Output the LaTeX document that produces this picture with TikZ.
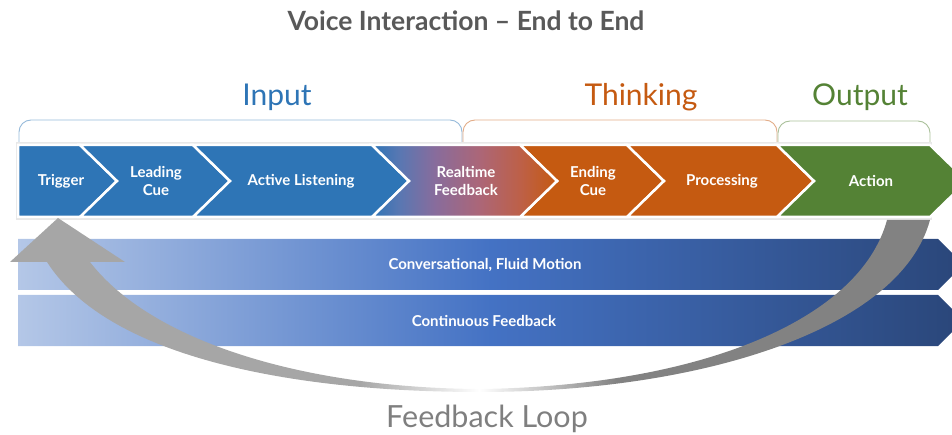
\documentclass[tikz,border=0pt]{standalone}
\usepackage{fontspec}
\setmainfont{Lato}
\usetikzlibrary{positioning}
\usetikzlibrary{calc}
\definecolor{inblue}{HTML}{2E75B6}
\definecolor{thorange}{HTML}{C55A11}
\definecolor{outgreen}{HTML}{548235}
\definecolor{titlegray}{HTML}{595959}
\definecolor{loopgray}{HTML}{7F7F7F}
\definecolor{barlight}{HTML}{B4C7E7}
\definecolor{barmid}{HTML}{4472C4}
\definecolor{bardark}{HTML}{2A4679}
\definecolor{loopdark}{HTML}{828282}
\definecolor{looplight}{HTML}{A6A6A6}
\definecolor{rtA}{HTML}{5A77B2}
\definecolor{rtB}{HTML}{886C9C}
\definecolor{rtC}{HTML}{AC6677}
\definecolor{rtD}{HTML}{BD6048}
\pgfdeclarehorizontalshading{barshade}{100bp}{color(0bp)=(barlight); color(25bp)=(barlight); color(50bp)=(barmid); color(75bp)=(bardark); color(100bp)=(bardark)}
\pgfdeclarehorizontalshading{loopshade}{100bp}{color(0bp)=(looplight); color(25bp)=(looplight); color(44bp)=(looplight); color(50.5bp)=(white); color(58bp)=(loopdark); color(75bp)=(loopdark); color(100bp)=(loopdark)}
\pgfdeclarehorizontalshading{rtshade}{100bp}{color(0bp)=(inblue); color(25bp)=(inblue); color(32.6bp)=(rtA); color(42bp)=(rtB); color(54.2bp)=(rtC); color(65bp)=(rtD); color(75bp)=(thorange); color(100bp)=(thorange)}
\tikzstyle{every node}=[inner sep=0pt]
\tikzstyle{chev}=[draw=white,line width=2.5pt,line join=miter]
\tikzstyle{chevtext}=[text=white,align=center,font=\bfseries\fontsize{15}{18}\selectfont]
\tikzstyle{bartext}=[text=white,font=\bfseries\fontsize{15}{18}\selectfont]
\tikzstyle{brace}=[line width=0.9pt,rounded corners=12pt]
\tikzstyle{phase}=[font=\fontsize{30}{34}\selectfont]

\begin{document}
\begin{tikzpicture}[x=1pt,y=-1pt]
  \useasboundingbox (0,0) rectangle (952,435);
  \node[text=titlegray,font=\bfseries\fontsize{26.5}{31}\selectfont] (title) at (466,21) {Voice Interaction -- End to End};

  % phase brackets
  \draw[brace,draw=inblue!50] (19,143) -- (19,120) -- (462,120) -- (462,143);
  \draw[brace,draw=thorange!50] (463,143) -- (463,120) -- (777,120) -- (777,143);
  \draw[brace,draw=outgreen!50] (778,143) -- (778,121) -- (930,121) -- (930,143);
  \node[phase,text=inblue] (input) at (277,97) {Input};
  \node[phase,text=thorange] (thinking) at (641,97) {Thinking};
  \node[phase,text=outgreen] (output) at (860,97) {Output};

  % chevron band
  \fill[gray!18] (16,142) rectangle (932,220);
  \draw[chev,fill=inblue] (18,145) -- (80,145) -- ++(37,36) -- (80,217) -- (18,217) -- cycle;
  \foreach \xl/\xr/\col in {80/193/inblue,193/372/inblue,520/627/thorange,627/777/thorange,777/930/outgreen}
    \draw[chev,fill=\col] (\xl,145) -- (\xr,145) -- ++(37,36) -- (\xr,217) -- (\xl,217) -- ++(37,-36) -- cycle;
  \shade[shading=rtshade] (372,145) -- (520,145) -- ++(37,36) -- (520,217) -- (372,217) -- ++(37,-36) -- cycle;
  \draw[chev] (372,145) -- (520,145) -- ++(37,36) -- (520,217) -- (372,217) -- ++(37,-36) -- cycle;
  \node[chevtext] (trigger) at (61,181) {Trigger};
  \node[chevtext] (leading) at (156,181) {Leading\\Cue};
  \node[chevtext] (listening) at (301,181) {Active Listening};
  \node[chevtext] (realtime) at (466,181) {Realtime\\Feedback};
  \node[chevtext] (ending) at (593,181) {Ending\\Cue};
  \node[chevtext] (processing) at (722,181) {Processing};
  \node[chevtext] (action) at (871,181) {Action};

  % bars
  \shade[shading=barshade] (18,239) -- (938,239) -- (963.5,264.5) -- (938,290) -- (18,290) -- cycle;
  \shade[shading=barshade] (18,295) -- (938,295) -- (963.5,320.5) -- (938,346) -- (18,346) -- cycle;
  \node[bartext] (fluid) at (485,265) {Conversational, Fluid Motion};
  \node[bartext] (continuous) at (484,321) {Continuous Feedback};

  % feedback loop arrow
  \shade[shading=loopshade] (47,262) .. controls (110,360) and (300,392) .. (480,392)
    .. controls (700,392) and (900,330) .. (930,220) -- (887,220)
    .. controls (860,320) and (700,386) .. (480,389)
    .. controls (300,388) and (150,340) .. (90,262)
    -- (125,262) -- (58,218) -- (10,262) -- cycle;
  \node[text=loopgray,font=\fontsize{30.5}{35}\selectfont] (loop) at (487,419) {Feedback Loop};
\end{tikzpicture}
\end{document}
